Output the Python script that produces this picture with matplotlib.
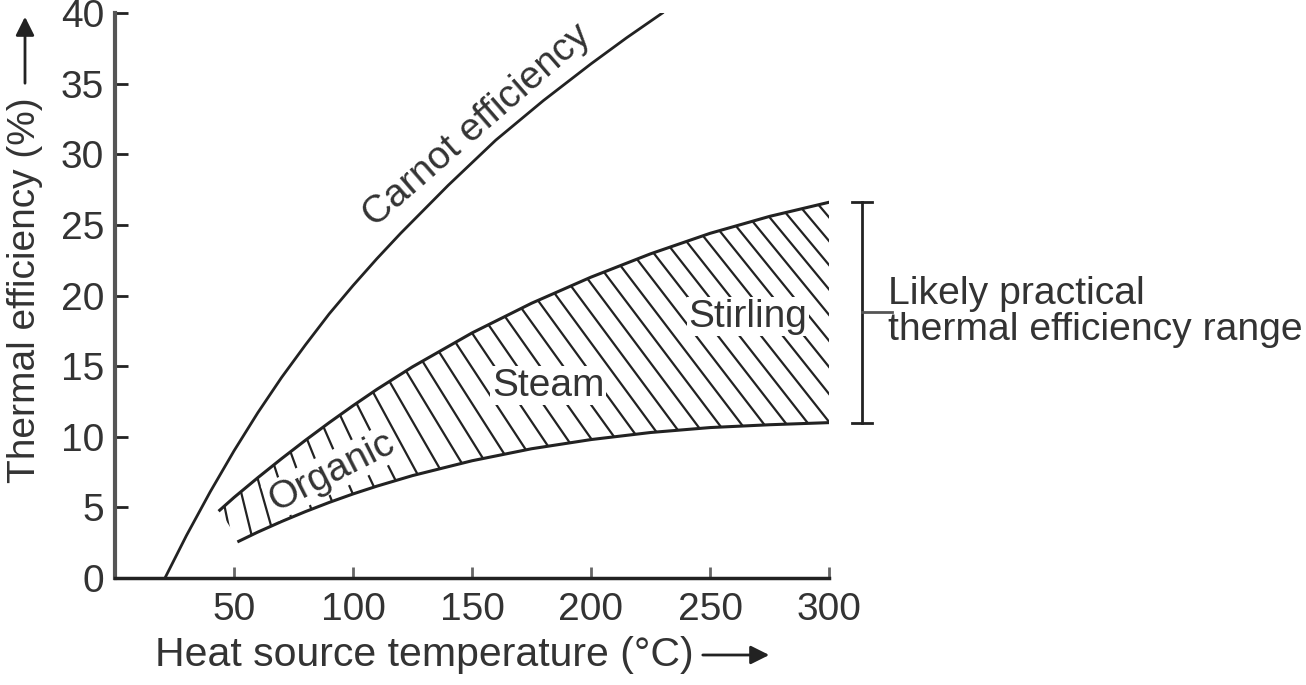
import numpy as np
import matplotlib
matplotlib.use("Agg")
import matplotlib.pyplot as plt
from matplotlib.patches import Polygon

# ---- data ----
# Carnot efficiency curve (temperature in degC, efficiency in %)
carnot_temp = [21, 30, 40, 50, 60, 70, 80, 90, 100, 110, 120, 140, 160, 180, 200, 215, 230]
carnot_eff = [0, 3.0, 6.1, 9.0, 11.7, 14.2, 16.5, 18.7, 20.7, 22.6, 24.4, 27.8, 31.0, 33.8, 36.4, 38.25, 40.0]

# upper edge of the practical band
upper_temp = [44, 50, 60, 70, 80, 90, 100, 110, 125, 150, 175, 200, 225, 250, 275, 300]
upper_eff = [4.8, 5.7, 7.1, 8.45, 9.75, 11.0, 12.2, 13.35, 14.95, 17.35, 19.45, 21.3, 22.95, 24.4, 25.6, 26.6]

# lower edge of the practical band
lower_temp = [52, 60, 70, 80, 90, 100, 110, 125, 150, 175, 200, 225, 250, 275, 300]
lower_eff = [2.6, 3.25, 4.0, 4.7, 5.35, 5.95, 6.5, 7.25, 8.3, 9.15, 9.8, 10.3, 10.65, 10.85, 11.0]

x_ticks = [50, 100, 150, 200, 250, 300]
y_ticks = [0, 5, 10, 15, 20, 25, 30, 35, 40]

plt.rcParams['font.family'] = ['Liberation Sans', 'DejaVu Sans']
ink = '#222222'
txt = '#333333'
fs = 28

W, H = 1306, 685
fig = plt.figure(figsize=(W / 100, H / 100), dpi=100)
ax = fig.add_axes([115 / W, 1 - 578 / H, (829 - 115) / W, (578 - 13) / H])
ax.set_xlim(0, 300)
ax.set_ylim(0, 40)

# band outline used as a clip shape for the hand-drawn hatch
band_x = list(upper_temp) + list(lower_temp[::-1])
band_y = list(upper_eff) + list(lower_eff[::-1])
band = Polygon(np.column_stack([band_x, band_y]), closed=True,
               facecolor='white', edgecolor='none', zorder=1)
ax.add_patch(band)

# hatch lines: steep in the organic part, leaning over towards Stirling
px_per_x = (829 - 115) / 300.0
px_per_y = (578 - 13) / 40.0
step = 16.5 / px_per_x
for xt in np.arange(46, 300, step):
    yt = np.interp(xt, upper_temp, upper_eff)
    r = np.interp(xt, [45, 80, 120, 170, 300], [0.2, 0.4, 0.6, 0.72, 0.85])
    k = r * px_per_y / px_per_x
    ln, = ax.plot([xt - k * 3, xt + k * 30], [yt + 3, yt - 30],
                  color=ink, lw=1.6, zorder=2)
    ln.set_clip_path(band)

ax.plot(upper_temp, upper_eff, color=ink, lw=2.2, zorder=3)
ax.plot(lower_temp, lower_eff, color=ink, lw=2.2, zorder=3)
ax.plot(carnot_temp, carnot_eff, color=ink, lw=2, zorder=3)

# labels inside the plot
wbox = dict(facecolor='white', edgecolor='none', pad=1)
ax.text(152, 32.0, 'Carnot efficiency', rotation=41, ha='center', va='center',
        fontsize=fs, color=txt)
ax.text(91, 7.5, 'Organic', rotation=27, ha='center', va='center',
        fontsize=fs, color=txt, bbox=wbox, zorder=4)
ax.text(182, 13.6, 'Steam', ha='center', va='center',
        fontsize=fs, color=txt, bbox=wbox, zorder=4)
ax.text(266, 18.5, 'Stirling', ha='center', va='center',
        fontsize=fs, color=txt, bbox=wbox, zorder=4)

# bracket for the practical range
b_top, b_bot = upper_eff[-1], lower_eff[-1]
b_mid = (b_top + b_bot) / 2
bx = 313.8
ax.plot([bx, bx], [b_bot, b_top], color=ink, lw=2, clip_on=False)
ax.plot([309.6, 318], [b_top, b_top], color=ink, lw=2, clip_on=False)
ax.plot([309.6, 318], [b_bot, b_bot], color=ink, lw=2, clip_on=False)
ax.plot([bx, 326.3], [b_mid, b_mid], color='#555555', lw=2, clip_on=False)
ax.text(324.7, b_mid, 'Likely practical\nthermal efficiency range', ha='left',
        va='center', fontsize=28.2, color=txt, linespacing=1.0, clip_on=False)

# axes styling
for s in ['top', 'right']:
    ax.spines[s].set_visible(False)
ax.spines['left'].set_linewidth(3)
ax.spines['left'].set_color('#555555')
ax.spines['bottom'].set_linewidth(2.5)
ax.spines['bottom'].set_color(ink)
ax.set_xticks(x_ticks)
ax.set_yticks(y_ticks)
ax.tick_params(axis='y', direction='in', length=9, width=2, color=ink,
               labelsize=fs, labelcolor=txt, pad=8)
ax.tick_params(axis='x', direction='in', length=8, width=2, color='#666666',
               labelsize=fs, labelcolor=txt, pad=10)

# axis titles with arrows
fig.text(25 / W, 1 - 290 / H, 'Thermal efficiency (%)', rotation=90,
         ha='center', va='center', fontsize=fs, color=txt)
ax.annotate('', xy=(25 / W, 1 - 14 / H), xytext=(25 / W, 1 - 86 / H),
            xycoords='figure fraction', textcoords='figure fraction',
            arrowprops=dict(arrowstyle='-|>', lw=2, color=ink, mutation_scale=28))
fig.text(155 / W, 1 - 655 / H, 'Heat source temperature (°C)',
         ha='left', va='center', fontsize=29.5, color=txt)
ax.annotate('', xy=(772 / W, 1 - 655 / H), xytext=(700 / W, 1 - 655 / H),
            xycoords='figure fraction', textcoords='figure fraction',
            arrowprops=dict(arrowstyle='-|>', lw=2, color=ink, mutation_scale=28))

fig.savefig('out.png', dpi=100)
